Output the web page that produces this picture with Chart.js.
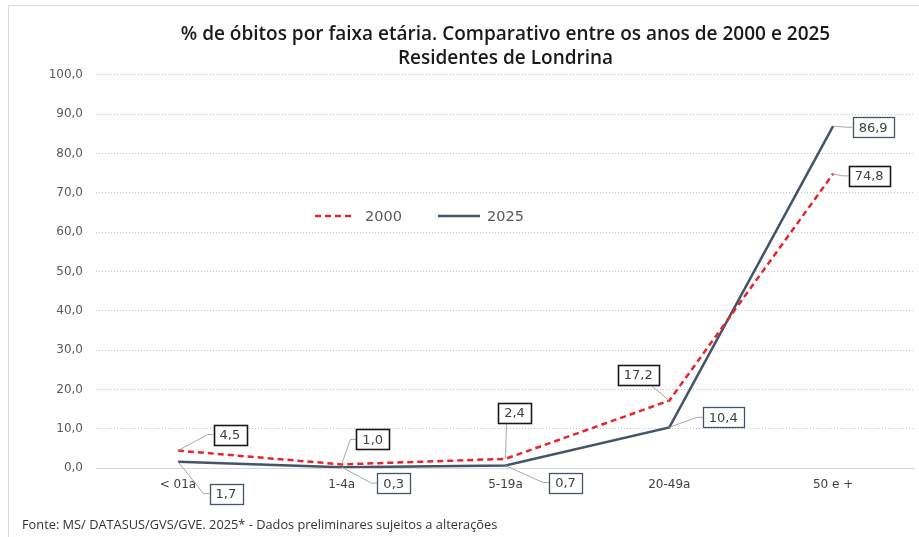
<!DOCTYPE html>
<html>
<head>
<meta charset="utf-8">
<script src="https://cdn.jsdelivr.net/npm/chart.js@4/dist/chart.umd.min.js"></script>
<style>
  html, body { margin: 0; padding: 0; background: #ffffff; }
  #wrap { position: relative; width: 919px; height: 537px; }
  canvas { display: block; }
</style>
</head>
<body>
<div id="wrap"><canvas id="c" width="919" height="537"></canvas></div>
<script>
const categories = ['< 01a', '1-4a', '5-19a', '20-49a', '50 e +'];
const values2000 = [4.5, 1.0, 2.4, 17.2, 74.8];
const values2025 = [1.7, 0.3, 0.7, 10.4, 86.9];
const seriesNames = ['2000', '2025'];
const titleLines = ['% de óbitos por faixa etária. Comparativo entre os anos de 2000 e 2025', 'Residentes de Londrina'];
const footerText = 'Fonte: MS/ DATASUS/GVS/GVE. 2025* - Dados preliminares sujeitos a alterações';

const fmt = v => v.toFixed(1).replace('.', ',');

// label box offsets (pixels, style only) relative to each point
const labelOffsets = [
  [[52, -16, 'side'], [31, -25, 'side'], [9, -46, 'bottom'], [-31, -26, 'bottom'], [36, 2, 'side']],
  [[48, 32, 'side'], [52, 16, 'side'], [60, 17, 'side'], [54, -10, 'side'], [40, 1, 'side']]
];
const boxBorders = [{ c: '#1a1a1a', w: 1.6 }, { c: '#44546a', w: 1.3 }];

const framePlugin = {
  id: 'frame',
  beforeDraw(chart) {
    const ctx = chart.ctx;
    ctx.save();
    ctx.strokeStyle = '#d9d9d9';
    ctx.lineWidth = 1;
    ctx.beginPath();
    ctx.moveTo(8.5, 537); ctx.lineTo(8.5, 5.5); ctx.lineTo(919, 5.5);
    ctx.stroke();
    ctx.restore();
  }
};

const labelPlugin = {
  id: 'boxLabels',
  afterDatasetsDraw(chart) {
    const ctx = chart.ctx;
    ctx.save();
    ctx.font = '13px "DejaVu Sans"';
    chart.data.datasets.forEach((ds, di) => {
      const meta = chart.getDatasetMeta(di);
      meta.data.forEach((pt, i) => {
        const txt = fmt(ds.data[i]);
        const [dx, dy, mode] = labelOffsets[di][i];
        const px = pt.x, py = pt.y;
        const bx = px + dx, by = py + dy;
        const w = ctx.measureText(txt).width + 12, h = 20;
        ctx.strokeStyle = '#a6a6a6';
        ctx.lineWidth = 1;
        ctx.beginPath();
        ctx.moveTo(px, py);
        if (mode === 'side') {
          const sgn = dx > 0 ? 1 : -1;
          const edge = bx - sgn * w / 2;
          ctx.lineTo(edge - sgn * 6, by);
          ctx.lineTo(edge, by);
        } else {
          const ey = dy < 0 ? by + h / 2 : by - h / 2;
          ctx.lineTo(bx + (dx > 0 ? -8 : 12), ey);
        }
        ctx.stroke();
        ctx.fillStyle = '#ffffff';
        ctx.fillRect(bx - w / 2, by - h / 2, w, h);
        ctx.strokeStyle = boxBorders[di].c;
        ctx.lineWidth = boxBorders[di].w;
        ctx.strokeRect(Math.round(bx - w / 2) + 0.5, Math.round(by - h / 2) + 0.5, Math.round(w), h);
        ctx.fillStyle = '#404040';
        ctx.textAlign = 'center';
        ctx.textBaseline = 'middle';
        ctx.fillText(txt, bx, by + 1);
      });
    });
    ctx.restore();
  }
};

const legendPlugin = {
  id: 'innerLegend',
  afterDraw(chart) {
    const ctx = chart.ctx;
    ctx.save();
    const y = 216;
    ctx.font = '14.5px "DejaVu Sans"';
    ctx.textBaseline = 'middle';
    ctx.textAlign = 'left';
    ctx.strokeStyle = '#e5262d';
    ctx.lineWidth = 2.5;
    ctx.setLineDash([6, 4]);
    ctx.beginPath(); ctx.moveTo(315, y); ctx.lineTo(353, y); ctx.stroke();
    ctx.setLineDash([]);
    ctx.fillStyle = '#595959';
    ctx.fillText(seriesNames[0], 365, y + 1);
    ctx.strokeStyle = '#44546a';
    ctx.beginPath(); ctx.moveTo(438, y); ctx.lineTo(480, y); ctx.stroke();
    ctx.fillText(seriesNames[1], 487, y + 1);
    ctx.restore();
  }
};

new Chart(document.getElementById('c'), {
  type: 'line',
  data: {
    labels: categories,
    datasets: [
      {
        label: seriesNames[0],
        data: values2000,
        borderColor: '#e5262d',
        borderWidth: 2.5,
        borderDash: [6, 4],
        pointRadius: 0,
        tension: 0,
        fill: false
      },
      {
        label: seriesNames[1],
        data: values2025,
        borderColor: '#44546a',
        borderWidth: 2.5,
        pointRadius: 0,
        tension: 0,
        fill: false
      }
    ]
  },
  options: {
    responsive: false,
    animation: false,
    devicePixelRatio: 1,
    layout: { padding: { left: 22, right: 4, top: 6, bottom: 3 } },
    plugins: {
      legend: { display: false },
      tooltip: { enabled: false },
      title: {
        display: true,
        text: titleLines,
        fullSize: false,
        color: '#1a1a1a',
        font: { family: '"Open Sans"', size: 19, weight: 600, lineHeight: 1.28 },
        padding: { top: 16, bottom: 4 }
      },
      subtitle: {
        display: true,
        position: 'bottom',
        align: 'start',
        text: footerText,
        color: '#333333',
        font: { family: '"Open Sans"', size: 12.8, lineHeight: 1.35 },
        padding: { top: 16, bottom: 0 }
      }
    },
    scales: {
      x: {
        offset: true,
        grid: { display: false, drawTicks: false },
        border: { display: false },
        ticks: { color: '#404040', font: { family: '"DejaVu Sans"', size: 12 }, padding: 9, maxRotation: 0 }
      },
      y: {
        min: 0,
        max: 100,
        afterFit(scale) { scale.width = 74; },
        border: { display: false, dash: ctx => (ctx.tick && ctx.tick.value === 0) ? [] : [1, 2] },
        grid: {
          drawTicks: false,
          color: ctx => ctx.tick.value === 0 ? '#d9d9d9' : '#c4c4c4',
          lineWidth: 1
        },
        ticks: {
          stepSize: 10,
          padding: 13,
          color: '#595959',
          font: { family: '"DejaVu Sans"', size: 12 },
          callback: v => fmt(v)
        }
      }
    }
  },
  plugins: [framePlugin, labelPlugin, legendPlugin]
});
</script>
</body>
</html>
